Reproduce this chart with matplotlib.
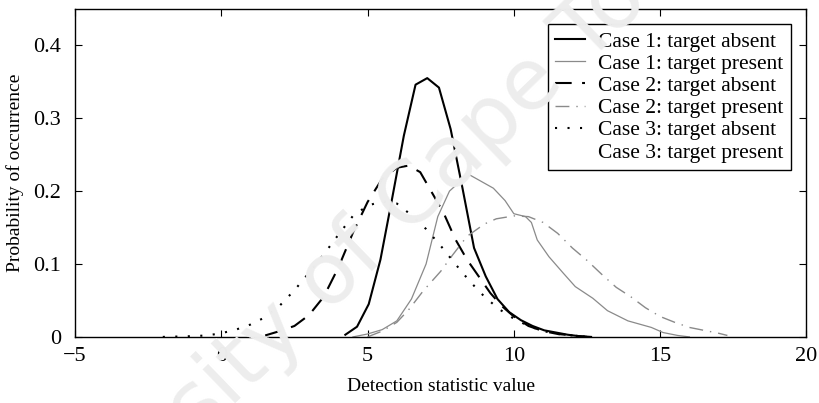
import matplotlib.pyplot as plt

plt.rcParams['font.family'] = ['Liberation Serif', 'DejaVu Serif']

# Case 1: target absent
c1a_x = [4.24, 4.64, 5.04, 5.44, 5.84, 6.24, 6.64, 7.04, 7.44, 7.84, 8.24, 8.64,
         9.04, 9.44, 9.84, 10.24, 10.64, 11.04, 11.44, 11.84, 12.24, 12.64]
c1a_y = [0.003, 0.014, 0.045, 0.106, 0.190, 0.276, 0.346, 0.355, 0.342, 0.285, 0.205, 0.122,
         0.083, 0.052, 0.034, 0.023, 0.015, 0.009, 0.006, 0.003, 0.001, 0.0]

# Case 1: target present
c1p_x = [4.5, 5.0, 5.5, 6.0, 6.5, 7.0, 7.4, 7.8, 8.1, 8.5, 8.9, 9.3, 9.7, 10.0, 10.4,
         10.6, 10.8, 11.2, 11.7, 12.1, 12.7, 13.2, 13.9, 14.7, 15.1, 15.6, 16.0]
c1p_y = [0.0, 0.004, 0.010, 0.022, 0.052, 0.100, 0.165, 0.200, 0.211, 0.222, 0.213, 0.204,
         0.187, 0.169, 0.165, 0.157, 0.133, 0.110, 0.087, 0.069, 0.053, 0.036, 0.022,
         0.013, 0.006, 0.002, 0.0]

# Case 2: target absent
c2a_x = [1.5, 2.0, 2.5, 3.0, 3.5, 4.0, 4.5, 5.0, 5.5, 6.0, 6.4, 6.8, 7.2, 7.6, 8.0,
         8.4, 8.8, 9.2, 9.6, 10.0, 10.5, 11.0, 11.5, 12.0, 12.5]
c2a_y = [0.002, 0.008, 0.015, 0.030, 0.055, 0.095, 0.143, 0.185, 0.217, 0.232, 0.235,
         0.226, 0.198, 0.170, 0.134, 0.106, 0.083, 0.060, 0.042, 0.028, 0.015, 0.008,
         0.004, 0.002, 0.0]

# Case 2: target present
c2p_x = [5.0, 5.5, 6.0, 6.4, 6.9, 7.5, 7.9, 8.4, 9.0, 9.4, 10.0, 10.5, 11.0, 11.5, 12.0,
         12.5, 13.0, 13.5, 14.0, 14.5, 15.0, 15.5, 16.0, 16.5, 17.0, 17.3]
c2p_y = [0.0, 0.008, 0.020, 0.037, 0.063, 0.090, 0.112, 0.138, 0.155, 0.162, 0.166,
         0.165, 0.157, 0.142, 0.122, 0.105, 0.086, 0.068, 0.055, 0.040, 0.028, 0.020,
         0.013, 0.009, 0.005, 0.002]

# Case 3: target absent
c3a_x = [-2.0, -1.0, -0.5, 0.0, 0.5, 1.0, 1.5, 2.0, 2.5, 3.0, 3.5, 4.0, 4.5, 5.0, 5.5,
         6.0, 6.5, 7.0, 7.5, 8.0, 8.5, 9.0, 9.5, 10.0, 10.5, 11.0, 11.5, 12.0, 12.5]
c3a_y = [0.0, 0.001, 0.002, 0.005, 0.010, 0.017, 0.027, 0.043, 0.064, 0.088, 0.113,
         0.140, 0.166, 0.180, 0.186, 0.183, 0.167, 0.148, 0.125, 0.100, 0.076, 0.055,
         0.038, 0.025, 0.015, 0.008, 0.004, 0.002, 0.0]

x_ticks = [-5, 0, 5, 10, 15, 20]
x_tick_labels = ['\u22125', '0', '5', '10', '15', '20']
y_ticks = [0, 0.1, 0.2, 0.3, 0.4]
y_tick_labels = ['0', '0.1', '0.2', '0.3', '0.4']

fig = plt.figure(figsize=(8.19, 4.03), dpi=100)
ax = fig.add_axes([0.0916, 0.164, 0.893, 0.814])

# faint watermark behind the plot
fig.text(0.43, 0.36, 'University of Cape Town', family='DejaVu Sans', fontsize=62,
         color='#ededed', rotation=44, ha='center', va='center', zorder=0)
ax.set_facecolor('none')

ax.plot(c1a_x, c1a_y, color='black', linewidth=1.5, label='Case 1: target absent')
ax.plot(c1p_x, c1p_y, color='#8a8a8a', linewidth=0.9, label='Case 1: target present')
ax.plot(c2a_x, c2a_y, color='black', linewidth=1.5, linestyle=(0, (8, 5)),
        label='Case 2: target absent')
ax.plot(c2p_x, c2p_y, color='#8a8a8a', linewidth=1.0, linestyle=(0, (10, 5, 1, 5)),
        label='Case 2: target present')
ax.plot(c3a_x, c3a_y, color='black', linewidth=1.5, linestyle=(0, (1, 5)),
        label='Case 3: target absent')
ax.plot([], [], color='none', label='Case 3: target present')

ax.set_xlim(-5, 20)
ax.set_ylim(0, 0.45)
ax.set_xticks(x_ticks)
ax.set_xticklabels(x_tick_labels)
ax.set_yticks(y_ticks)
ax.set_yticklabels(y_tick_labels)
ax.tick_params(direction='in', top=True, right=True, labelsize=16, length=5)
ax.tick_params(axis='x', pad=7)
ax.tick_params(axis='y', pad=10)
for s in ax.spines.values():
    s.set_linewidth(1.0)

ax.set_xlabel('Detection statistic value', fontsize=14, labelpad=9)
ax.set_ylabel('Probability of occurrence', fontsize=14, labelpad=7)

leg = ax.legend(loc='upper right', fontsize=15.5, frameon=True, fancybox=False,
                edgecolor='black', framealpha=1, borderpad=0.35, labelspacing=0.1,
                handlelength=1.4, handletextpad=0.6, borderaxespad=0.7)
leg.get_frame().set_linewidth(1.0)

fig.savefig('out.png', dpi=100)
